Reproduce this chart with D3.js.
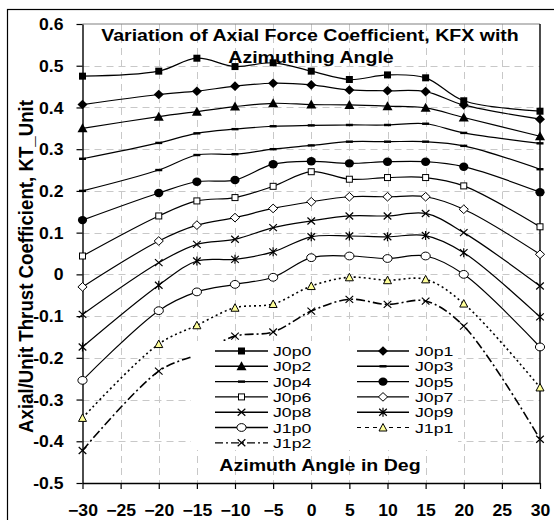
<!DOCTYPE html>
<html><head><meta charset="utf-8">
<script src="https://cdn.jsdelivr.net/npm/d3@7"></script>
<style>
html,body{margin:0;padding:0;background:#fff;}
svg{display:block;font-family:"Liberation Sans",Arial,sans-serif;}
</style></head>
<body>
<svg id="chart" width="554" height="520"></svg>
<script>
// ---- data ----
const angles = [-30, -20, -15, -10, -5, 0, 5, 10, 15, 20, 30];
const J0p0 = [0.475, 0.487, 0.518, 0.498, 0.507, 0.487, 0.467, 0.478, 0.471, 0.416, 0.391];
const J0p1 = [0.407, 0.431, 0.439, 0.451, 0.458, 0.454, 0.442, 0.440, 0.438, 0.406, 0.372];
const J0p2 = [0.350, 0.378, 0.390, 0.402, 0.410, 0.407, 0.406, 0.403, 0.399, 0.376, 0.331];
const J0p3 = [0.277, 0.315, 0.338, 0.348, 0.355, 0.357, 0.358, 0.358, 0.361, 0.339, 0.314];
const J0p4 = [0.200, 0.250, 0.286, 0.288, 0.300, 0.309, 0.318, 0.318, 0.318, 0.308, 0.252];
const J0p5 = [0.130, 0.195, 0.222, 0.226, 0.264, 0.271, 0.266, 0.270, 0.270, 0.258, 0.197];
const J0p6 = [0.044, 0.140, 0.176, 0.184, 0.211, 0.246, 0.228, 0.232, 0.232, 0.212, 0.114];
const J0p7 = [-0.030, 0.080, 0.118, 0.136, 0.158, 0.174, 0.186, 0.186, 0.186, 0.156, 0.048];
const J0p8 = [-0.096, 0.028, 0.072, 0.084, 0.112, 0.128, 0.140, 0.140, 0.146, 0.100, -0.028];
const J0p9 = [-0.174, -0.026, 0.032, 0.036, 0.054, 0.090, 0.092, 0.090, 0.093, 0.052, -0.102];
const J1p0 = [-0.254, -0.087, -0.042, -0.024, -0.007, 0.040, 0.044, 0.038, 0.044, 0.000, -0.174];
const J1p1 = [-0.344, -0.167, -0.122, -0.080, -0.071, -0.028, -0.007, -0.014, -0.012, -0.070, -0.271];
const J1p2 = [-0.422, -0.232, -0.192, -0.148, -0.138, -0.088, -0.060, -0.072, -0.064, -0.124, -0.395];

const seriesNames = ["J0p0","J0p1","J0p2","J0p3","J0p4","J0p5","J0p6","J0p7","J0p8","J0p9","J1p0","J1p1","J1p2"];
const seriesValues = [J0p0,J0p1,J0p2,J0p3,J0p4,J0p5,J0p6,J0p7,J0p8,J0p9,J1p0,J1p1,J1p2];

const xTicks = [-30, -25, -20, -15, -10, -5, 0, 5, 10, 15, 20, 25, 30];
const yTicks = [-0.5, -0.4, -0.3, -0.2, -0.1, 0, 0.1, 0.2, 0.3, 0.4, 0.5, 0.6];
const yTickLabels = ["-0.5","-0.4","-0.3","-0.2","-0.1","0","0.1","0.2","0.3","0.4","0.5","0.6"];

const titleLines = ["Variation of Axial Force Coefficient, KFX with", "Azimuthing Angle"];
const xTitle = "Azimuth Angle in Deg";
const yTitle = "Axial/Unit Thrust Coefficient, KT_Unit";

// ---- styles ----
const styles = {
  J0p0:{m:"sqFill", dash:null, w:1.2},
  J0p1:{m:"diaFill", dash:null, w:1.2},
  J0p2:{m:"triFill", dash:null, w:1.2},
  J0p3:{m:"dash", dash:null, w:1.2},
  J0p4:{m:"dash", dash:null, w:1.2},
  J0p5:{m:"cirFill", dash:null, w:1.2},
  J0p6:{m:"sqOpen", dash:null, w:1.2},
  J0p7:{m:"diaOpen", dash:null, w:1.2},
  J0p8:{m:"cross", dash:null, w:1.2},
  J0p9:{m:"star", dash:null, w:1.2},
  J1p0:{m:"cirOpen", dash:null, w:1.2},
  J1p1:{m:"triYellow", dash:"2,3", w:1.6},
  J1p2:{m:"cross", dash:"9,3,2,3", w:1.6}
};

const SX = 1.2; // horizontal text stretch
const TSX = 1.1; // tick label stretch
const svg = d3.select("#chart");

const x = d3.scaleLinear().domain([-30, 30]).range([82.5, 540]);
const y = d3.scaleLinear().domain([-0.5, 0.6]).range([483, 24]);

// outer chart border
svg.append("rect").attr("x",7.5).attr("y",9.5).attr("width",600).attr("height",600)
  .attr("fill","none").attr("stroke","#000").attr("stroke-width",1.2);

// gridlines
const grid = svg.append("g");
grid.selectAll("line.v").data(xTicks.slice(1, -1)).join("line")
  .attr("x1", d=>Math.round(x(d))+0.5).attr("x2", d=>Math.round(x(d))+0.5)
  .attr("y1", y(0.6)).attr("y2", y(-0.5))
  .attr("stroke","#c8c8c8").attr("stroke-width",1).attr("stroke-dasharray","7,5");
grid.selectAll("line.h").data(yTicks.slice(1, -1)).join("line")
  .attr("y1", d=>Math.round(y(d))+0.5).attr("y2", d=>Math.round(y(d))+0.5)
  .attr("x1", x(-30)).attr("x2", x(30))
  .attr("stroke","#c8c8c8").attr("stroke-width",1).attr("stroke-dasharray","7,5");
// plot area top/right border
svg.append("line").attr("x1",x(-30)).attr("x2",x(30)).attr("y1",y(0.6)).attr("y2",y(0.6))
  .attr("stroke","#808080").attr("stroke-width",1.2);
svg.append("line").attr("x1",x(30)).attr("x2",x(30)).attr("y1",y(0.6)).attr("y2",y(-0.5))
  .attr("stroke","#000").attr("stroke-width",1.4);

// axes
const yAxis = svg.append("g").attr("transform",`translate(${x(-30)},0)`)
  .call(d3.axisLeft(y).tickValues(yTicks).tickFormat((d,i)=>yTickLabels[i]).tickSize(6).tickSizeOuter(0));
const xAxis = svg.append("g").attr("transform",`translate(0,${y(-0.5)})`)
  .call(d3.axisBottom(x).tickValues(xTicks).tickSize(6).tickSizeOuter(0));
[yAxis, xAxis].forEach(a=>{
  a.select(".domain").attr("stroke","#000").attr("stroke-width",1.4);
  a.selectAll(".tick line").attr("stroke","#000").attr("stroke-width",1.2);
  a.selectAll(".tick text").attr("font-family","'Liberation Sans',Arial,sans-serif")
    .attr("font-weight","bold").attr("font-size",16).attr("fill","#000");
});
yAxis.selectAll(".tick text").attr("x", -19/TSX).attr("dy", "0.35em").attr("transform", `scale(${TSX},1)`);
xAxis.selectAll(".tick text").attr("y", 33).attr("dy", 0).attr("transform", `scale(${TSX},1)`);

// markers
function marker(g, type, cx, cy) {
  const k = g.append("g").attr("transform",`translate(${cx},${cy})`);
  switch(type){
    case "sqFill": k.append("rect").attr("x",-3.5).attr("y",-3.5).attr("width",7).attr("height",7).attr("fill","#000"); break;
    case "sqOpen": k.append("rect").attr("x",-3).attr("y",-3).attr("width",6).attr("height",6).attr("fill","#fff").attr("stroke","#000").attr("stroke-width",1); break;
    case "diaFill": k.append("path").attr("d","M0,-4.8L5,0L0,4.8L-5,0Z").attr("fill","#000"); break;
    case "diaOpen": k.append("path").attr("d","M0,-4.3L4.6,0L0,4.3L-4.6,0Z").attr("fill","#fff").attr("stroke","#000").attr("stroke-width",1); break;
    case "triFill": k.append("path").attr("d","M0,-5L5,4L-5,4Z").attr("fill","#000"); break;
    case "triYellow": k.append("path").attr("d","M0,-4L4,3.5L-4,3.5Z").attr("fill","#ffff99").attr("stroke","#000").attr("stroke-width",1); break;
    case "dash": k.append("rect").attr("x",-3.5).attr("y",-1.2).attr("width",7).attr("height",2.4).attr("fill","#000"); break;
    case "cirFill": k.append("ellipse").attr("rx",4.6).attr("ry",4.2).attr("fill","#000"); break;
    case "cirOpen": k.append("ellipse").attr("rx",4.6).attr("ry",3.9).attr("fill","#fff").attr("stroke","#000").attr("stroke-width",1); break;
    case "cross": k.append("path").attr("d","M-3.8,-3.5L3.8,3.5M-3.8,3.5L3.8,-3.5").attr("stroke","#000").attr("stroke-width",1.2); break;
    case "star": k.append("path").attr("d","M-3.8,-3.5L3.8,3.5M-3.8,3.5L3.8,-3.5M0,-4.5L0,4.5").attr("stroke","#000").attr("stroke-width",1.2); break;
  }
}

// series
const line = d3.line().x((d,i)=>x(angles[i])).y(d=>y(d)).curve(d3.curveCatmullRom.alpha(0.5));
const plot = svg.append("g");
seriesNames.forEach((name, si)=>{
  const st = styles[name];
  const vals = seriesValues[si];
  plot.append("path").attr("d", line(vals)).attr("fill","none").attr("stroke","#000")
    .attr("stroke-width", st.w).attr("stroke-dasharray", st.dash);
});
seriesNames.forEach((name, si)=>{
  const st = styles[name];
  seriesValues[si].forEach((v,i)=> marker(plot, st.m, x(angles[i]), y(v)));
});

// stretched text helper
function stext(g, str, tx, ty, opts) {
  const sx = opts.sx || SX;
  const t = g.append("text").attr("transform", `translate(${tx},${ty}) scale(${sx},1)`)
    .attr("text-anchor", opts.anchor || "start")
    .attr("font-size", opts.size || 16)
    .attr("font-weight", opts.bold ? "bold" : "normal")
    .attr("fill","#000").text(str);
  return t;
}

// legend
const legendLeft = ["J0p0","J0p2","J0p4","J0p6","J0p8","J1p0","J1p2"];
const legendRight = ["J0p1","J0p3","J0p5","J0p7","J0p9","J1p1"];
const lg = svg.append("g");
lg.append("rect").attr("x",191).attr("y",341).attr("width",267).attr("height",109).attr("fill","#fff");
function legendCol(names, x1, x2, tx) {
  names.forEach((n,i)=>{
    const ly = 351 + i*15.3;
    const st = styles[n];
    lg.append("line").attr("x1",x1).attr("x2",x2).attr("y1",ly).attr("y2",ly)
      .attr("stroke", "#000").attr("stroke-width", st.dash ? 1.2 : 1.4)
      .attr("stroke-dasharray", st.dash ? (n==="J1p1" ? "4,4" : "8,3,2,3") : null);
    marker(lg, st.m, (x1+x2)/2, ly);
    stext(lg, n, tx, ly+5, {size:13, sx:1.36});
  });
}
legendCol(legendLeft, 215, 268, 273);
legendCol(legendRight, 357, 409, 415);

// titles
stext(svg, titleLines[0], 310, 41, {anchor:"middle", bold:true, size:16.3});
stext(svg, titleLines[1], 311, 63, {anchor:"middle", bold:true, size:16.3});
stext(svg, xTitle, 320, 471, {anchor:"middle", bold:true, size:16.3});
svg.append("text").attr("transform","translate(33,266.5) rotate(-90) scale(1,1.2)")
  .attr("text-anchor","middle").attr("font-size",17).attr("font-weight","bold")
  .attr("textLength",333).attr("lengthAdjust","spacingAndGlyphs").text(yTitle);
</script>
</body></html>
